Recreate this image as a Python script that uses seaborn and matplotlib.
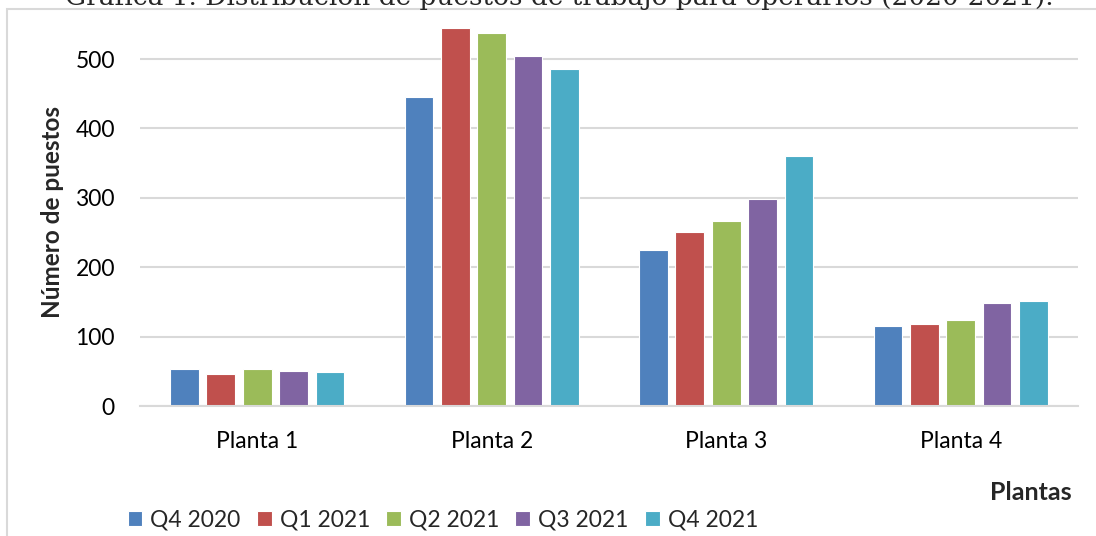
import numpy as np
import pandas as pd
import seaborn as sns
import matplotlib.pyplot as plt
from matplotlib.patches import Rectangle

plantas = ['Planta 1', 'Planta 2', 'Planta 3', 'Planta 4']
periodos = ['Q4 2020', 'Q1 2021', 'Q2 2021', 'Q3 2021', 'Q4 2021']
q4_2020 = [53, 446, 225, 116]
q1_2021 = [46, 545, 251, 118]
q2_2021 = [53, 537, 267, 124]
q3_2021 = [50, 505, 298, 149]
q4_2021 = [49, 486, 360, 151]
colores = ['#4F81BD', '#C0504D', '#9BBB59', '#8064A2', '#4BACC6']

df = pd.DataFrame({'Planta': plantas, 'Q4 2020': q4_2020, 'Q1 2021': q1_2021,
                   'Q2 2021': q2_2021, 'Q3 2021': q3_2021, 'Q4 2021': q4_2021})
df = df.melt(id_vars='Planta', var_name='Periodo', value_name='Puestos')

sns.set_theme(style='white')
plt.rcParams['font.family'] = ['Lato', 'DejaVu Sans']

fig = plt.figure(figsize=(10.96, 5.36), dpi=100)
ax = fig.add_axes([0.1277, 0.2425, 0.8558, 0.725])

sns.barplot(data=df, x='Planta', y='Puestos', hue='Periodo', hue_order=periodos,
            palette=colores, width=0.776, gap=0.21, edgecolor='white', linewidth=0.8,
            saturation=1, ax=ax, legend=True)

ax.set_ylim(0, 560)
ax.set_yticks([0, 100, 200, 300, 400, 500])
ax.yaxis.grid(True, color='#D9D9D9', linewidth=1.5)
ax.set_axisbelow(True)
for s in ['top', 'right', 'left']:
    ax.spines[s].set_visible(False)
ax.spines['bottom'].set_color('#D9D9D9')
ax.spines['bottom'].set_linewidth(1.5)
ax.tick_params(axis='x', length=0, labelsize=16.5, colors='black', pad=18)
ax.tick_params(axis='y', length=0, labelsize=16.5, colors='black', pad=18)

ax.set_xlabel('')
ax.set_ylabel('Número de puestos', fontsize=17.5, fontweight='bold', labelpad=8)
fig.text(0.978, 1 - 493 / 536, 'Plantas', fontsize=18, fontweight='bold', ha='right', va='center')

ax.legend(loc='center left', bbox_to_anchor=(0.108, 1 - 520 / 536), bbox_transform=fig.transFigure,
          ncol=5, frameon=False, fontsize=16.5, handlelength=0.65, handleheight=0.65,
          handletextpad=0.35, columnspacing=0.7, borderaxespad=0)

# marco del grafico
fig.patches.append(Rectangle((7 / 1096, -0.1), 1.2, 1 - 9 / 536 + 0.1, transform=fig.transFigure,
                             fill=False, edgecolor='#D9D9D9', linewidth=1.5))

# titulo (recortado arriba como en la captura original)
fig.text(0.5105, 1 - 5 / 536, 'Gráfica 1. Distribución de puestos de trabajo para operarios (2020-2021).',
         family='DejaVu Serif', fontsize=19, ha='center', va='baseline')

fig.savefig('out.png', dpi=100)
